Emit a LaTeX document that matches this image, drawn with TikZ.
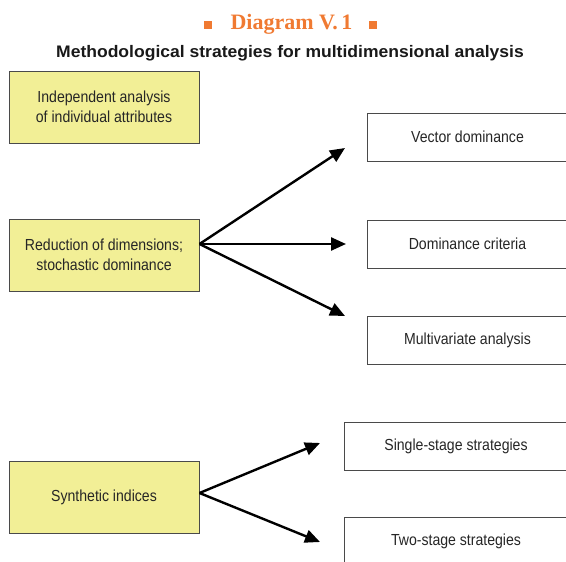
\documentclass[tikz,border=0pt]{standalone}
\usepackage{fontspec}
\setmainfont{Liberation Serif}
\setsansfont{Liberation Sans}
\newfontfamily\boxfont{Liberation Sans}[FakeStretch=0.88]
\newfontfamily\headfont{Liberation Sans}[FakeStretch=1.05]
\usetikzlibrary{arrows.meta}
\definecolor{titleorange}{HTML}{F07A32}
\definecolor{paleyellow}{HTML}{F2EF96}
\definecolor{edgegray}{HTML}{4A4A4A}
\begin{document}
\begin{tikzpicture}[x=1pt,y=-1pt,
  boxtext/.style={inner sep=0pt,align=center,font=\boxfont\fontsize{16}{20.5}\selectfont,text=black!85},
  mainbox/.style={boxtext,draw=edgegray,line width=1pt,fill=paleyellow,minimum width=190pt,minimum height=72pt},
  subbox/.style={boxtext,draw=edgegray,line width=1pt,fill=white,minimum height=48pt},
  link/.style={line width=2.4pt,-{Triangle[length=15pt,width=13pt]}}]
\useasboundingbox (0,0) rectangle (566,562);
\clip (0,0) rectangle (566,562);

% heading
\node[anchor=base,inner sep=0pt,font=\bfseries\fontsize{22}{26}\selectfont,text=titleorange] (title) at (291.5,29) {Diagram V.\,1};
\fill[titleorange] (204,21) rectangle (212,29);
\fill[titleorange] (369,21) rectangle (377,29);
\node[anchor=base,inner sep=0pt,font=\headfont\bfseries\fontsize{16.7}{20}\selectfont,text=black!90] (subtitle) at (290,57)
  {Methodological strategies for multidimensional analysis};

% strategies on the left
\node[mainbox] (indep) at (104,107) {Independent analysis\\of individual attributes};
\node[mainbox] (reduc) at (104,255) {Reduction of dimensions;\\stochastic dominance};
\node[mainbox] (synth) at (104,497) {Synthetic indices};

% methods on the right
\node[subbox,minimum width=201pt] (vector) at (467.5,137) {Vector dominance};
\node[subbox,minimum width=201pt] (crit) at (467.5,244) {Dominance criteria};
\node[subbox,minimum width=201pt] (multi) at (467.5,340) {Multivariate analysis};
\node[subbox,minimum width=224pt] (single) at (456,446) {Single-stage strategies};
\node[subbox,minimum width=224pt] (two) at (456,541) {Two-stage strategies};

% arrow tips
\coordinate (tv) at (345,148);
\coordinate (tc) at (346,244);
\coordinate (tm) at (345,316);
\coordinate (ts) at (320,443);
\coordinate (tt) at (320,542);

\draw[link] ([yshift=11pt]reduc.east) -- (tv);
\draw[link] ([yshift=11pt]reduc.east) -- (tc);
\draw[link] ([yshift=11pt]reduc.east) -- (tm);
\draw[link] ([yshift=4pt]synth.east) -- (ts);
\draw[link] ([yshift=4pt]synth.east) -- (tt);
\end{tikzpicture}
\end{document}
